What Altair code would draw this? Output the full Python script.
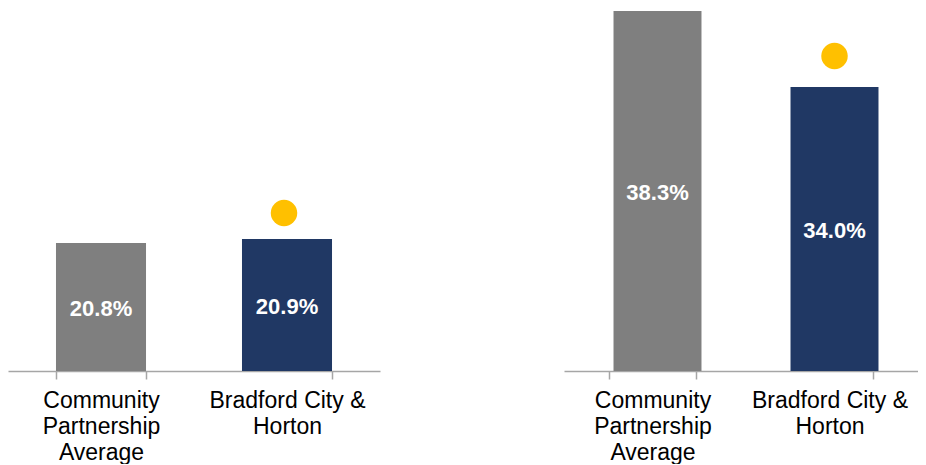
import altair as alt
import pandas as pd

categories = ["Community Partnership Average", "Bradford City & Horton"]
left_values = [20.8, 20.9]
right_values = [38.3, 34.0]
bar_colors = ["#7f7f7f", "#203864"]
marker_flag = [False, True]

left_domain = [17.6, 26.625]
right_domain = [17.93, 38.356]

label_expr = ("datum.label == 'Community Partnership Average' ? "
              "['Community', 'Partnership', 'Average'] : "
              "(datum.label == 'Bradford City & Horton' ? ['Bradford City &', 'Horton'] : '')")


def panel(values, domain, width, pad_inner, dot_offset, shift, dot_dx):
    df = pd.DataFrame({
        "category": categories,
        "value": values,
        "color": bar_colors,
        "marker": marker_flag,
    })
    df["base"] = domain[0]
    df["mid"] = (df["value"] + df["base"]) / 2
    df["label"] = df["value"].map(lambda v: f"{v:.1f}%")

    x = alt.X("category:N", sort=categories, title=None,
              scale=alt.Scale(domain=categories, paddingInner=pad_inner,
                              paddingOuter=pad_inner / 2),
              axis=alt.Axis(labelExpr=label_expr, labelAngle=0,
                            labelFont="Liberation Sans", labelFontSize=23,
                            labelLineHeight=26, labelColor="#000000",
                            labelPadding=10, labelBaseline="top",
                            labelLimit=300,
                            tickBand="extent", tickSize=8, tickColor="#a6a6a6",
                            tickWidth=1.5, domainColor="#a6a6a6", domainWidth=1.5,
                            grid=False))
    yscale = alt.Scale(domain=domain, zero=False, nice=False)

    base = alt.Chart(df)
    bars = base.mark_bar(xOffset=shift).encode(
        x=x,
        y=alt.Y("value:Q", scale=yscale, axis=None),
        y2="base:Q",
        color=alt.Color("color:N", scale=None),
    )
    texts = base.mark_text(color="white", fontWeight="bold", fontSize=22,
                           font="Liberation Sans", dy=2, xOffset=shift).encode(
        x=x,
        y=alt.Y("mid:Q", scale=yscale, axis=None),
        text="label:N",
    )
    dots = base.transform_filter("datum.marker").mark_point(
        filled=True, shape="circle", size=700, color="#ffc000", opacity=1,
        yOffset=-dot_offset, xOffset=shift + dot_dx).encode(
        x=x,
        y=alt.Y("value:Q", scale=yscale, axis=None),
    )
    return alt.layer(bars, texts, dots).properties(width=width, height=361)


left = panel(left_values, left_domain, 372, 0.516, 26, 0, -3)
right = panel(right_values, right_domain, 354, 0.503, 31, 5, 0)

chart = alt.hconcat(left, right, spacing=184).properties(
    padding={"left": 0, "top": 2, "right": 0, "bottom": 0}
).configure_view(stroke=None).resolve_scale(y="independent", x="independent")

chart.save("out.html", embed_options={"renderer": "svg", "actions": False})
